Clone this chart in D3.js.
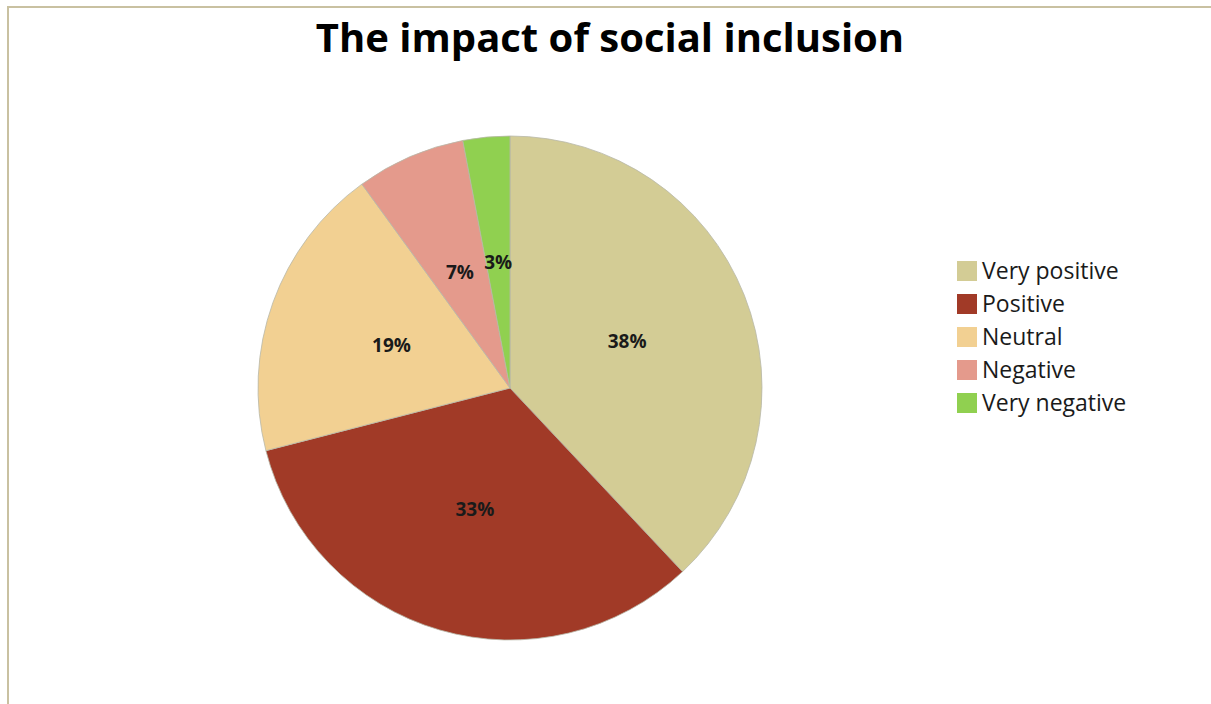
<!DOCTYPE html>
<html>
<head>
<script src="https://d3js.org/d3.v7.min.js"></script>
<style>
  body { margin: 0; background: #fff; font-family: 'Open Sans', sans-serif; }
</style>
</head>
<body>
<div id="chart"></div>
<script>
// data
var categories = ["Very positive", "Positive", "Neutral", "Negative", "Very negative"];
var values = [38, 33, 19, 7, 3];
var colors = ["#d3cc95", "#a13a27", "#f2d092", "#e49a8c", "#90d050"];

var width = 1211, height = 704;
var cx = 510, cy = 388, radius = 252;

var svg = d3.select("#chart").append("svg")
    .attr("width", width)
    .attr("height", height);

// frame (top and left edges visible)
svg.append("line").attr("x1", 8).attr("y1", 7).attr("x2", width).attr("y2", 7)
    .attr("stroke", "#c9c1a1").attr("stroke-width", 2);
svg.append("line").attr("x1", 8).attr("y1", 6).attr("x2", 8).attr("y2", height)
    .attr("stroke", "#c9c1a1").attr("stroke-width", 2);

// title
svg.append("text")
    .attr("x", 610).attr("y", 52)
    .attr("text-anchor", "middle")
    .style("font-weight", "bold")
    .style("font-size", "40px")
    .attr("fill", "#000")
    .text("The impact of social inclusion");

var pie = d3.pie().sort(null);
var arcs = pie(values);

var arc = d3.arc().innerRadius(0).outerRadius(radius);
var labelArc = d3.arc().innerRadius(radius * 0.5).outerRadius(radius * 0.5);

var g = svg.append("g").attr("transform", "translate(" + cx + "," + cy + ")");

g.selectAll("path.slice")
    .data(arcs)
    .enter().append("path")
    .attr("class", "slice")
    .attr("d", arc)
    .attr("fill", function(d, i) { return colors[i]; })
    .attr("stroke", "#b8b8a8")
    .attr("stroke-width", 0.8);

g.selectAll("text.lbl")
    .data(arcs)
    .enter().append("text")
    .attr("class", "lbl")
    .attr("transform", function(d) { return "translate(" + labelArc.centroid(d) + ")"; })
    .attr("text-anchor", "middle")
    .attr("dy", "0.35em")
    .style("font-weight", "bold")
    .style("font-size", "19px")
    .attr("fill", "#1a1a1a")
    .text(function(d) { return d.data + "%"; });

// legend
var legend = svg.append("g").attr("transform", "translate(957,271)");
var rows = legend.selectAll("g")
    .data(categories)
    .enter().append("g")
    .attr("transform", function(d, i) { return "translate(0," + (i * 33) + ")"; });

rows.append("rect")
    .attr("x", 0).attr("y", -10)
    .attr("width", 20).attr("height", 20)
    .attr("fill", function(d, i) { return colors[i]; });

rows.append("text")
    .attr("x", 25).attr("dy", "0.35em")
    .style("font-size", "23px")
    .attr("fill", "#1a1a1a")
    .text(function(d) { return d; });
</script>
</body>
</html>
